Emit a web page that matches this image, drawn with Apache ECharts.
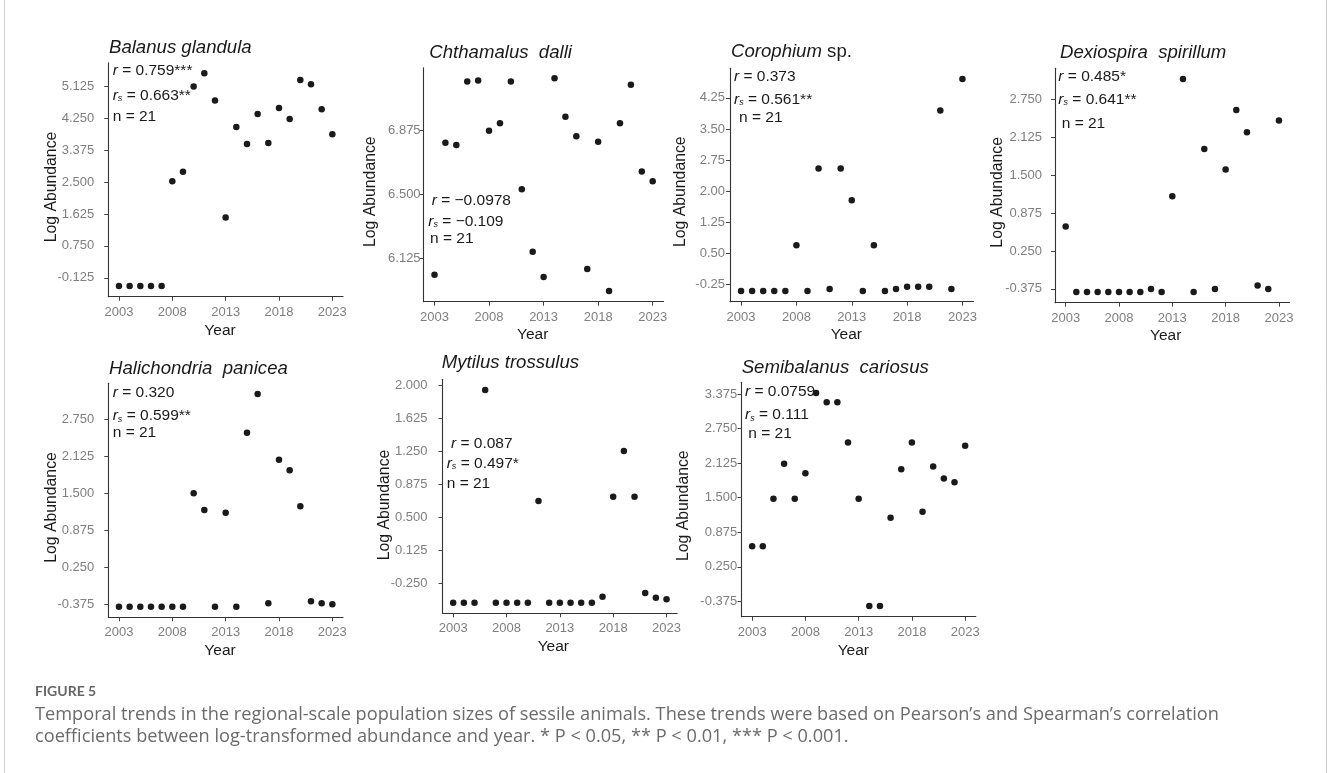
<!DOCTYPE html>
<html><head><meta charset="utf-8">
<script src="https://cdn.jsdelivr.net/npm/echarts@6/dist/echarts.min.js"></script>
<style>html,body{margin:0;padding:0;background:#fff}#c{width:1328px;height:773px}</style>
</head><body><div id="c"></div><script>
// ---------- data ----------
const years = [2003,2004,2005,2006,2007,2008,2009,2010,2011,2012,2013,2014,2015,2016,2017,2018,2019,2020,2021,2022,2023];
const balanusGlandula = [-0.353,-0.353,-0.353,-0.353,-0.353,2.523,2.786,5.125,5.489,4.743,1.531,4.015,3.551,4.370,3.578,4.534,4.233,5.307,5.189,4.506,3.815];
const chthamalusDalli = [6.031,6.805,6.791,7.163,7.169,6.875,6.918,7.163,6.532,6.166,6.017,7.182,6.957,6.842,6.064,6.810,5.935,6.918,7.145,6.636,6.579];
const corophiumSp = [-0.412,-0.412,-0.412,-0.412,-0.412,0.697,-0.412,2.546,-0.364,2.546,1.782,-0.412,0.697,-0.412,-0.364,-0.308,-0.308,-0.308,3.945,-0.364,4.708];
const dexiospiraSpirillum = [0.654,-0.429,-0.429,-0.429,-0.429,-0.429,-0.429,-0.429,-0.380,-0.429,1.155,3.091,-0.429,1.936,-0.380,1.595,2.579,2.211,-0.319,-0.380,2.403];
const halichondriaPanicea = [-0.420,-0.420,-0.420,-0.420,-0.420,-0.420,-0.420,1.500,1.218,-0.420,1.173,-0.420,2.525,3.184,-0.364,2.069,1.889,1.280,-0.330,-0.364,-0.381];
const mytilusTrossulus = [-0.468,-0.468,-0.468,1.944,-0.468,-0.468,-0.468,-0.468,0.685,-0.468,-0.468,-0.468,-0.468,-0.468,-0.400,0.734,1.252,0.734,-0.359,-0.412,-0.430];
const semibalanusCariosus = [0.622,0.622,1.481,2.111,1.481,1.941,3.393,3.224,3.224,2.498,1.481,-0.460,-0.460,1.137,2.014,2.498,1.246,2.062,1.844,1.778,2.437];

const xTicks = [2003,2008,2013,2018,2023];
const ticksBalanus = ['-0.125','0.750','1.625','2.500','3.375','4.250','5.125'];
const ticksChthamalus = ['6.125','6.500','6.875'];
const ticksCorophium = ['-0.25','0.50','1.25','2.00','2.75','3.50','4.25'];
const ticksDexiospira = ['-0.375','0.250','0.875','1.500','2.125','2.750'];
const ticksHalichondria = ['-0.375','0.250','0.875','1.500','2.125','2.750'];
const ticksMytilus = ['-0.250','0.125','0.500','0.875','1.250','1.625','2.000'];
const ticksSemibalanus = ['-0.375','0.250','0.875','1.500','2.125','2.750','3.375'];

const statR  = ['0.759***','\u22120.0978','0.373','0.485*','0.320','0.087','0.0759'];
const statRs = ['0.663**','\u22120.109','0.561**','0.641**','0.599**','0.497*','0.111'];
const statN  = ['21','21','21','21','21','21','21'];

const seriesValues = [balanusGlandula, chthamalusDalli, corophiumSp, dexiospiraSpirillum, halichondriaPanicea, mytilusTrossulus, semibalanusCariosus];
const seriesTicks = [ticksBalanus, ticksChthamalus, ticksCorophium, ticksDexiospira, ticksHalichondria, ticksMytilus, ticksSemibalanus];
const titleItalic = ['Balanus glandula','Chthamalus  dalli','Corophium','Dexiospira  spirillum','Halichondria  panicea','Mytilus trossulus','Semibalanus  cariosus'];
const titlePlain = ['','',' sp.','','','',''];

// ---------- layout (pixels) ----------
const layout = [
  {g:[108.3,62.7,234.7,234],  ym:14,  t:[109,47.5],   r:[112.7,71],   rs:[112.7,95.3], n:[112.7,116.7], yr:[220,330.5],   la:[51.7,187]},
  {g:[423.6,67.7,240,234],    ym:3,   t:[429.3,52.7], r:[431.7,200.7],rs:[428.3,221.7],n:[430,238.3],   yr:[532.7,334.5], la:[370.3,191.7]},
  {g:[730,68.3,243.5,233.4],  ym:5,   t:[731,52.3],   r:[734,76.7],   rs:[734,99.3],   n:[739,117.7],   yr:[846.3,335],   la:[680.7,191.7]},
  {g:[1055,68.3,234.6,234.4], ym:13,  t:[1060,52.7],  r:[1058.3,76.7],rs:[1058.3,99.3],n:[1061.7,123.3],yr:[1165.7,336],  la:[997.3,192.3]},
  {g:[108.3,383.3,234.7,234], ym:14,  t:[109,369],    r:[112.7,392.7],rs:[112.7,416],  n:[112.7,432.7], yr:[220,650.5],   la:[51.7,507.5]},
  {g:[442.5,379.3,234.7,234], ym:15,  t:[441.7,363.3],r:[451,443.3],  rs:[446.7,463.3],n:[446.7,484],   yr:[553.3,646.5], la:[385,505]},
  {g:[741.5,382.3,234.3,234.4],ym:4.3,t:[741.7,367.7],r:[745,391.7],  rs:[745,415],    n:[748.3,433.3], yr:[853.3,650.5], la:[684,505.7]}
];

const FF = '"Liberation Sans", Arial, sans-serif';
const TEXT = '#1a1a1a';
const TICKC = '#7f7f7f';

function expand(arr){ const mn=Math.min(...arr), mx=Math.max(...arr), d=mx-mn; return [mn-0.05*d, mx+0.05*d]; }
const xr = expand(years);

const grids=[], xAxes=[], yAxes=[], series=[], graphic=[];
seriesValues.forEach((vals,i)=>{
  const L = layout[i];
  grids.push({left:L.g[0], top:L.g[1], width:L.g[2], height:L.g[3], containLabel:false, outerBoundsMode:'none'});
  const axisLineStyle = {color:'#333', width:1.1};
  xAxes.push({gridIndex:i, type:'value', min:xr[0], max:xr[1],
    axisLine:{show:true, onZero:false, lineStyle:axisLineStyle},
    axisTick:{show:true, length:4, customValues:xTicks, lineStyle:{color:'#444'}},
    axisLabel:{customValues:xTicks, margin:9, color:TICKC, fontSize:13, fontFamily:FF, formatter:v=>String(v)},
    splitLine:{show:false}});
  const yr = expand(vals);
  const tl = seriesTicks[i];
  const tv = tl.map(Number);
  yAxes.push({gridIndex:i, type:'value', min:yr[0], max:yr[1],
    axisLine:{show:true, onZero:false, lineStyle:axisLineStyle},
    axisTick:{show:true, length:4, customValues:tv, lineStyle:{color:'#444'}},
    axisLabel:{customValues:tv, margin:L.ym, color:TICKC, fontSize:13, fontFamily:FF,
      formatter:v=>{ let best=tl[0],bd=1e9; tl.forEach((s,k)=>{const d=Math.abs(tv[k]-v); if(d<bd){bd=d;best=s;}}); return best; }},
    splitLine:{show:false}});
  series.push({type:'scatter', xAxisIndex:i, yAxisIndex:i, symbol:'circle', symbolSize:6.5,
    itemStyle:{color:'#1a1a1a', opacity:1}, data: years.map((y,k)=>[y, vals[k]])});

  // title
  graphic.push({type:'text', x:L.t[0], y:L.t[1], style:{
    text:'{i|'+titleItalic[i]+'}' + (titlePlain[i] ? '{p|'+titlePlain[i]+'}' : ''),
    align:'left', verticalAlign:'middle',
    rich:{i:{fontStyle:'italic', fontSize:18.6, fontFamily:FF, fill:TEXT},
          p:{fontSize:18.6, fontFamily:FF, fill:TEXT}}}});
  const ann = {i:{fontStyle:'italic', fontSize:15.5, fontFamily:FF, fill:TEXT, lineHeight:15, verticalAlign:'middle'},
               t:{fontSize:15.5, fontFamily:FF, fill:TEXT, lineHeight:15, verticalAlign:'middle'},
               s:{fontStyle:'italic', fontSize:9, fontFamily:FF, fill:TEXT, lineHeight:9, verticalAlign:'bottom'}};
  graphic.push({type:'text', x:L.r[0], y:L.r[1], style:{text:'{i|r}{t| = '+statR[i]+'}', align:'left', verticalAlign:'middle', rich:ann}});
  graphic.push({type:'text', x:L.rs[0], y:L.rs[1], style:{text:'{i|r}{s|s}{t| = '+statRs[i]+'}', align:'left', verticalAlign:'middle', rich:ann}});
  graphic.push({type:'text', x:L.n[0], y:L.n[1], style:{text:'n = '+statN[i], align:'left', verticalAlign:'middle', fontSize:15.5, fontFamily:FF, fill:TEXT}});
  // axis titles
  graphic.push({type:'text', x:L.yr[0], y:L.yr[1], style:{text:'Year', align:'center', verticalAlign:'middle', fontSize:15.5, fontFamily:FF, fill:TEXT}});
  graphic.push({type:'text', x:L.la[0], y:L.la[1], rotation:Math.PI/2, style:{text:'Log Abundance', align:'center', verticalAlign:'middle', fontSize:15.8, fontFamily:FF, fill:TEXT}});
});

// caption & frame
graphic.push({type:'text', x:35, y:691, style:{text:'FIGURE 5', align:'left', verticalAlign:'middle', fontSize:14, fontWeight:'bold', fontFamily:'Lato, "Open Sans", sans-serif', fill:'#666'}});
const CF = '"Open Sans", Lato, sans-serif';
graphic.push({type:'text', x:35, y:715, style:{text:'Temporal trends in the regional-scale population sizes of sessile animals. These trends were based on Pearson\u2019s and Spearman\u2019s correlation', align:'left', verticalAlign:'middle', fontSize:18.2, fontFamily:CF, fill:'#6b6b6b'}});
graphic.push({type:'text', x:35, y:736.7, style:{text:'coefficients between log-transformed abundance and year. * P < 0.05, ** P < 0.01, *** P < 0.001.', align:'left', verticalAlign:'middle', fontSize:18.2, fontFamily:CF, fill:'#6b6b6b'}});
graphic.push({type:'line', shape:{x1:4.5,y1:0,x2:4.5,y2:773}, style:{stroke:'#d0d0d0', lineWidth:1}});
graphic.push({type:'line', shape:{x1:1326.5,y1:0,x2:1326.5,y2:773}, style:{stroke:'#d0d0d0', lineWidth:1}});

const chart = echarts.init(document.getElementById('c'), null, {renderer:'canvas'});
chart.setOption({animation:false, backgroundColor:'#fff', grid:grids, xAxis:xAxes, yAxis:yAxes, series:series, graphic:graphic});
</script></body></html>
